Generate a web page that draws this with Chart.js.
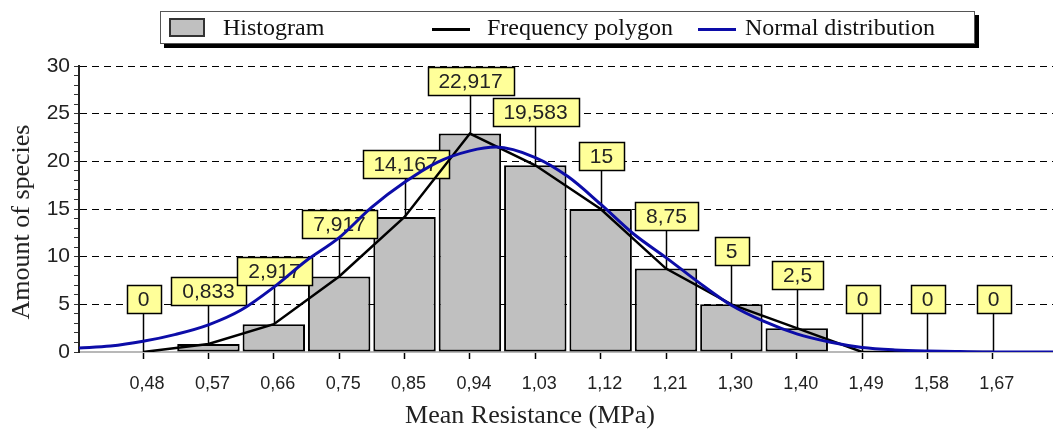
<!DOCTYPE html>
<html>
<head>
<meta charset="utf-8">
<script src="https://cdn.jsdelivr.net/npm/chart.js@4/dist/chart.umd.min.js"></script>
<style>
html,body{margin:0;padding:0;background:#fff;}
#wrap{position:relative;width:1053px;height:432px;overflow:hidden;}
#c{position:absolute;left:0;top:0;}
#legend{position:absolute;left:160px;top:11px;width:813px;height:31px;border:1px solid #555;background:#fff;box-shadow:4px 4px 0 #000;font-family:"Liberation Serif","Times New Roman",serif;font-size:24px;color:#111;}
#legend .txt{position:absolute;top:0;height:31px;line-height:31px;white-space:nowrap;}
#legend .sw{position:absolute;box-sizing:border-box;}
</style>
</head>
<body>
<div id="wrap">
<canvas id="c" width="1053" height="432"></canvas>
<div id="legend"></div>
</div>
<script>
// ---- data ----
const categories = ['0,48','0,57','0,66','0,75','0,85','0,94','1,03','1,12','1,21','1,30','1,40','1,49','1,58','1,67'];
const histogram  = [0, 0.833, 2.917, 7.917, 14.167, 22.917, 19.583, 15, 8.75, 5, 2.5, 0, 0, 0];
const polygon    = [0, 0.833, 2.917, 7.917, 14.167, 22.917, 19.583, 15, 8.75, 5, 2.5, 0, 0, 0];
// normal-distribution curve (x in class-index units)
const normalX = [-0.98, -0.5, 0, 0.5, 1, 1.5, 2, 2.5, 3, 3.5, 4, 4.5, 5, 5.4, 6, 6.5, 7, 7.5, 8, 8.5, 9, 9.5, 10, 10.5, 11, 11.5, 12, 12.5, 13, 13.92];
const normalY = [0.42, 0.62, 1.12, 1.85, 2.85, 4.4, 6.8, 9.6, 12.0, 15.2, 17.8, 19.9, 21.1, 21.5, 20.4, 18.4, 15.5, 12.4, 9.9, 7.3, 4.9, 3.2, 1.9, 1.05, 0.48, 0.22, 0.1, 0.04, 0.0, 0.0];
const yTickValues = [0, 5, 10, 15, 20, 25, 30];
const seriesNames = ['Histogram', 'Frequency polygon', 'Normal distribution'];
const xTitle = 'Mean Resistance (MPa)';
const yTitle = 'Amount of species';

// ---- legend (HTML) ----
const legend = document.getElementById('legend');
const legendItems = [
  {sw:{left:8, top:6, width:36, height:19, background:'#c0c0c0', border:'2px solid #333'}, tx:62},
  {sw:{left:271, top:16, width:38, height:3, background:'#000'}, tx:326},
  {sw:{left:537, top:16, width:38, height:3, background:'#0c0ca8'}, tx:584}
];
legendItems.forEach((it, k) => {
  const s = document.createElement('div'); s.className = 'sw';
  Object.entries(it.sw).forEach(([p, v]) => s.style[p] = typeof v === 'number' ? v + 'px' : v);
  legend.appendChild(s);
  const t = document.createElement('div'); t.className = 'txt';
  t.style.left = it.tx + 'px'; t.textContent = seriesNames[k];
  legend.appendChild(t);
});

const fmt = v => String(v).replace('.', ',');

const labelPlugin = {
  id: 'valueBoxes',
  afterDatasetDraw(chart, args) {
    if (args.meta.type !== 'bar') return;
    const ctx = chart.ctx, xs = chart.scales.x, ys = chart.scales.y;
    ctx.save();
    ctx.font = '21px "Liberation Sans", Arial, sans-serif';
    histogram.forEach((v, i) => {
      const px = Math.round(xs.getPixelForValue(i)) + 0.5;
      const py = ys.getPixelForValue(v);
      const txt = fmt(v);
      const w = Math.round(ctx.measureText(txt).width + 22);
      const h = 28;
      const bottom = Math.round(py - 39) + 0.5;
      ctx.strokeStyle = '#000'; ctx.lineWidth = 1.5;
      ctx.beginPath(); ctx.moveTo(px, bottom); ctx.lineTo(px, py); ctx.stroke();
      const left = Math.round(px - w / 2) + 0.5;
      ctx.fillStyle = '#ffff99';
      ctx.fillRect(left, bottom - h, w, h);
      ctx.strokeRect(left, bottom - h, w, h);
      ctx.fillStyle = '#222';
      ctx.textAlign = 'center'; ctx.textBaseline = 'middle';
      ctx.fillText(txt, px, bottom - h / 2 + 1);
    });
    ctx.restore();
  }
};

const titlePlugin = {
  id: 'axisTitles',
  afterDraw(chart) {
    const ctx = chart.ctx;
    ctx.save();
    ctx.font = '26px "Liberation Serif", "Times New Roman", serif';
    ctx.fillStyle = '#222';
    ctx.textAlign = 'center'; ctx.textBaseline = 'middle';
    ctx.fillText(xTitle, 530, 416);
    ctx.translate(22, 222);
    ctx.rotate(-Math.PI / 2);
    ctx.fillText(yTitle, 0, 0);
    ctx.restore();
  }
};

new Chart(document.getElementById('c'), {
  data: {
    datasets: [
      {
        type: 'bar', label: seriesNames[0], order: 3,
        data: histogram.map((v, i) => ({x: i, y: v})),
        backgroundColor: '#c0c0c0', borderColor: '#000', borderWidth: 2, borderSkipped: false,
        barPercentage: 0.955, categoryPercentage: 1
      },
      {
        type: 'line', label: seriesNames[1], order: 2,
        data: polygon.map((v, i) => ({x: i, y: v})),
        borderColor: '#000', borderWidth: 2.5, pointRadius: 0, tension: 0, fill: false
      },
      {
        type: 'line', label: seriesNames[2], order: 1,
        data: normalX.map((x, i) => ({x: x, y: normalY[i]})),
        borderColor: '#0c0ca8', borderWidth: 3, pointRadius: 0,
        cubicInterpolationMode: 'monotone', fill: false
      }
    ]
  },
  options: {
    responsive: false, animation: false,
    layout: {padding: {top: 66, right: 0, left: 0, bottom: 0}},
    plugins: {legend: {display: false}, tooltip: {enabled: false}},
    scales: {
      x: {
        type: 'linear', min: -0.98, max: 13.92, offset: false,
        afterBuildTicks: s => { s.ticks = categories.map((c, i) => ({value: i})); },
        afterFit: s => { s.height = 80; s.paddingLeft = 0; s.paddingRight = 0; },
        ticks: {
          autoSkip: false, maxRotation: 0, labelOffset: 4, padding: 14,
          color: '#222', font: {family: '"Liberation Sans", Arial, sans-serif', size: 18},
          callback: v => categories[v]
        },
        grid: {offset: false, drawOnChartArea: false, drawTicks: true, tickLength: 7, tickColor: '#000', tickWidth: 1.5},
        border: {display: true, color: '#b8b8b8', width: 2}
      },
      y: {
        type: 'linear', min: 0, max: 30,
        afterBuildTicks: s => {
          const t = [];
          for (let v = yTickValues[0]; v <= yTickValues[yTickValues.length - 1]; v++) t.push({value: v});
          s.ticks = t;
        },
        afterFit: s => { s.width = 79; },
        ticks: {
          autoSkip: false, padding: 4, color: '#222',
          font: {family: '"Liberation Sans", Arial, sans-serif', size: 21},
          callback: v => yTickValues.includes(v) ? String(v) : ''
        },
        grid: {
          drawTicks: true, tickLength: 5, lineWidth: 1,
          color: c => (c.tick && yTickValues.includes(c.tick.value) && c.tick.value > 0) ? '#000' : 'rgba(0,0,0,0)',
          tickColor: '#333', tickWidth: 1
        },
        border: {display: true, color: '#222', width: 2, dash: [7, 5]}
      }
    }
  },
  plugins: [labelPlugin, titlePlugin]
});
</script>
</body>
</html>
